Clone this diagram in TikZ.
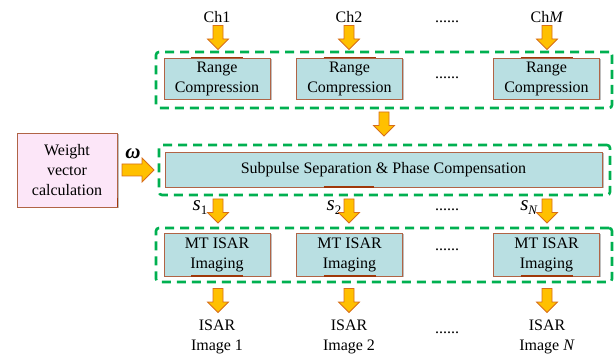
\documentclass[tikz,border=0pt]{standalone}
\usepackage{fontspec}
\setmainfont{Liberation Serif}
\usetikzlibrary{shadows}
\definecolor{boxfill}{RGB}{185,223,226}
\definecolor{boxedge}{RGB}{176,100,70}
\definecolor{darkedge}{RGB}{160,55,10}
\definecolor{pinkfill}{RGB}{252,230,248}
\definecolor{arrfill}{RGB}{255,192,0}
\definecolor{arredge}{RGB}{215,110,25}
\definecolor{dashgreen}{RGB}{0,176,80}
\newcommand{\sig}[1]{{\fontsize{21}{21}\selectfont\itshape s}\raisebox{-4pt}{\fontsize{13}{13}\selectfont #1}}
\begin{document}
\begin{tikzpicture}[x=1pt,y=-1pt,
  txt/.style={font=\fontsize{16}{20}\selectfont, align=center, inner sep=0pt},
  proc/.style={txt, draw=boxedge, line width=0.8pt, fill=boxfill,
    minimum width=106pt, minimum height=42pt,
    drop shadow={opacity=0.25, shadow xshift=1.5pt, shadow yshift=-1.5pt, fill=black}},
  weightbox/.style={proc, fill=pinkfill, minimum width=100pt, minimum height=74pt},
  grp/.style={draw=dashgreen, line width=2.6pt, dash pattern=on 9pt off 6pt, rounded corners=3pt, inner sep=0pt},
  accent/.style={draw=darkedge, line width=1.8pt},
  dotsty/.style={font=\fontsize{16}{16}\selectfont, inner sep=0pt},
  darr/.pic={\filldraw[fill=arrfill, draw=arredge, line width=0.8pt, line join=miter]
     (-5,-12) -- (5,-12) -- (5,1.5) -- (10.5,1.5) -- (0,12) -- (-10.5,1.5) -- (-5,1.5) -- cycle;},
  rarr/.pic={\filldraw[fill=arrfill, draw=arredge, line width=0.8pt, line join=miter]
     (-16,-6) -- (4,-6) -- (4,-12) -- (16,0) -- (4,12) -- (4,6) -- (-16,6) -- cycle;}
]
\useasboundingbox (0,0) rectangle (616,358);

% group frames
\node[grp, minimum width=456pt, minimum height=56pt] (g1) at (384,80) {};
\node[grp, minimum width=451pt, minimum height=50pt] (g2) at (384.5,170) {};
\node[grp, minimum width=456pt, minimum height=54pt] (g3) at (384,255) {};

% channel labels
\node[txt] (ch1) at (217,17) {Ch1};
\node[txt] (ch2) at (349,17) {Ch2};
\node[txt] (chm) at (547,17) {Ch\textit{M}};
\node[dotsty] (d1) at (447,22) {......};

% range compression
\node[proc, minimum height=41pt] (r1) at (217,78.5) {Range\\Compression};
\node[proc, minimum height=41pt] (r2) at (349.5,78.5) {Range\\Compression};
\node[proc, minimum height=41pt] (r3) at (546.5,78.5) {Range\\Compression};
\node[dotsty] (d2) at (447,78) {......};
\foreach \n in {r1,r2,r3}{\draw[accent] ([xshift=-26pt]\n.north) -- ([xshift=26pt]\n.north);}

% subpulse
\node[proc, minimum width=437pt, minimum height=35pt] (sp) at (383.5,169.5) {Subpulse Separation \& Phase Compensation};
\draw[accent] ([xshift=-60pt]sp.south) -- ([xshift=-10pt]sp.south);

% weight box
\node[weightbox] (w) at (67,170) {Weight\\vector\\calculation};
\draw[accent] ([yshift=-28pt]w.east) -- (w.south east);
\node[inner sep=0pt, font=\fontsize{21}{21}\selectfont\bfseries\itshape] (om) at (133,154) {ω};

% signals
\node[inner sep=0pt] (s1) at (200,208) {\sig{1}};
\node[inner sep=0pt] (s2) at (334,208) {\sig{2}};
\node[inner sep=0pt] (sn) at (529,208) {\sig{\textit{N}}};
\node[dotsty] (d3) at (447,210) {......};

% MT ISAR imaging
\node[proc, minimum height=43pt] (m1) at (217,254.5) {MT ISAR\\Imaging};
\node[proc, minimum height=43pt] (m2) at (349.5,254.5) {MT ISAR\\Imaging};
\node[proc, minimum height=43pt] (m3) at (546.5,254.5) {MT ISAR\\Imaging};
\node[dotsty] (d4) at (447,250) {......};
\foreach \n in {m1,m2,m3}{\draw[accent] ([xshift=-26pt]\n.south) -- ([xshift=26pt]\n.south);}

% outputs
\node[txt] (o1) at (217,337) {ISAR\\Image 1};
\node[txt] (o2) at (349,337) {ISAR\\Image 2};
\node[txt] (o3) at (547,337) {ISAR\\Image \textit{N}};
\node[dotsty] (d5) at (447,333) {......};

% block arrows
\path (218,37.5) pic {darr} (349,37.5) pic {darr} (547,37.5) pic {darr};
\path (384,124) pic {darr};
\path (218,211) pic {darr} (349,211) pic {darr} (547,211) pic {darr};
\path (218,300.5) pic {darr} (349,300.5) pic {darr} (547,300.5) pic {darr};
\path (138,170) pic {rarr};
\end{tikzpicture}
\end{document}
